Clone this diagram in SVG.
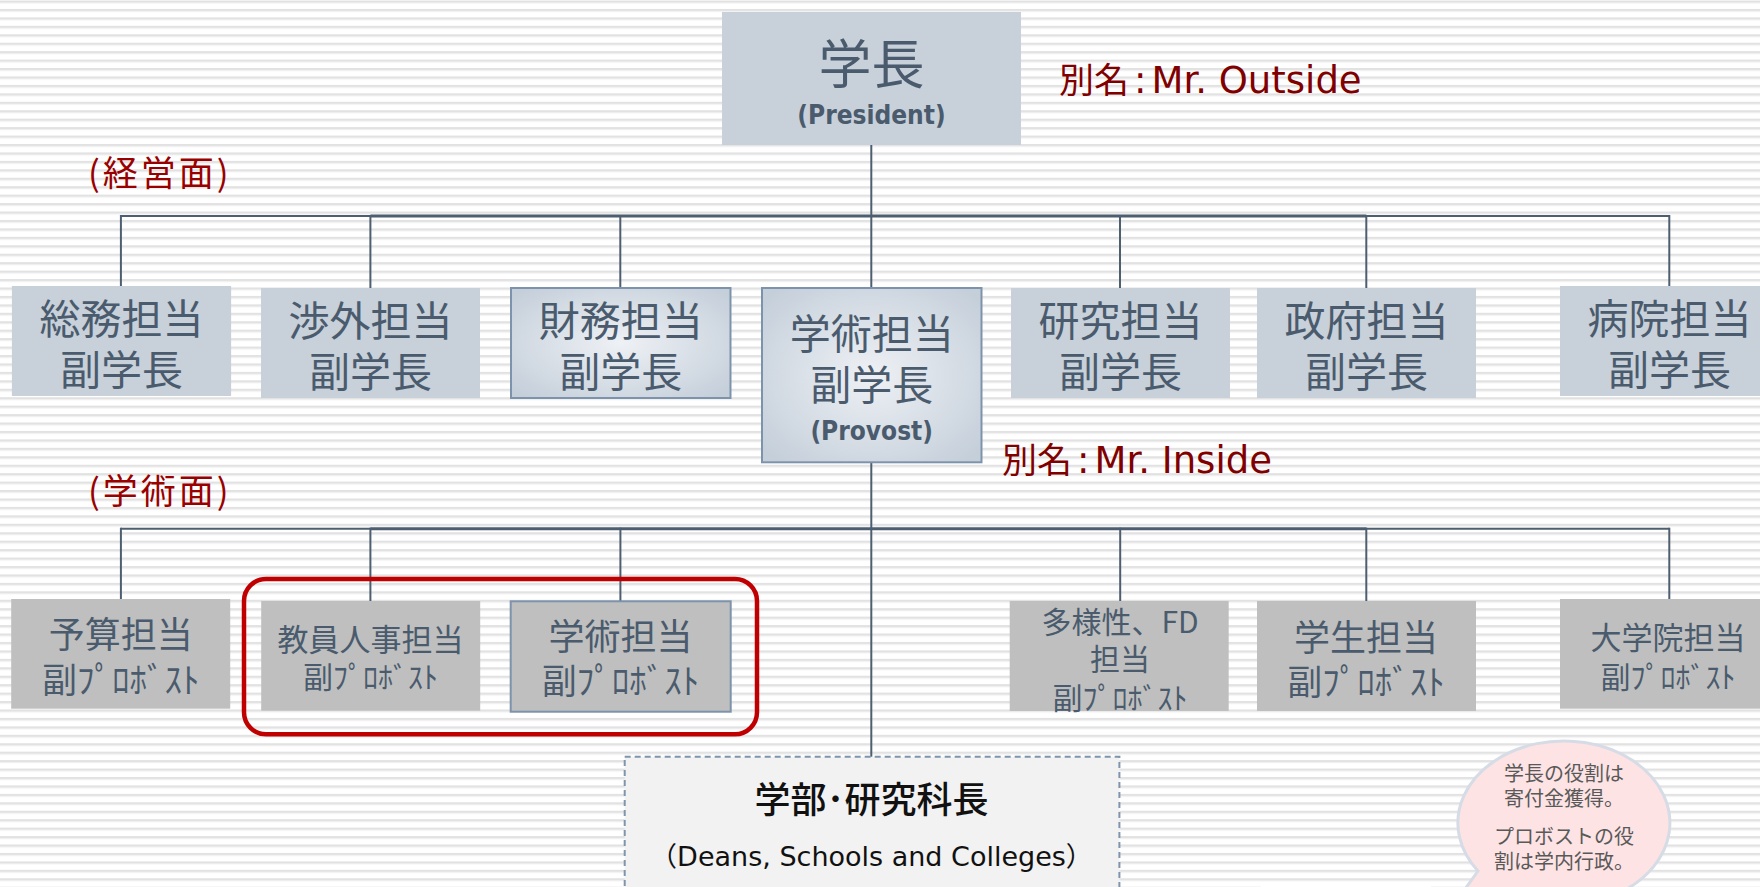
<svg xmlns="http://www.w3.org/2000/svg" width="1760" height="887" viewBox="0 0 1760 887">
<defs>
<pattern id="stripes" patternUnits="userSpaceOnUse" x="0" y="0.5" width="20" height="8.44">
<rect width="20" height="8.44" fill="#ffffff"/>
<rect y="0" width="20" height="2" fill="#e2e2e2"/>
<rect y="2" width="20" height="1" fill="#eeeeee"/>
</pattern>
<radialGradient id="glow" cx="50%" cy="50%" r="65%">
<stop offset="0" stop-color="#eef1f5"/>
<stop offset="1" stop-color="#c5cfda"/>
</radialGradient>
</defs>
<style>
.box{fill:#c8d0da}
.gbox{fill:url(#glow);stroke:#7c93ab;stroke-width:2}
.gray{fill:#bfbfbf}
.grays{fill:#bfbfbf;stroke:#7c93ab;stroke-width:2}
.t{font-family:'Noto Sans CJK JP',sans-serif;fill:#4a5b6d;text-anchor:middle}
.lat{font-family:'DejaVu Sans Condensed','DejaVu Sans',sans-serif;font-weight:bold;fill:#4a5b6d}
.ln{stroke:#4d5e70;stroke-width:2;fill:none}
.thick{stroke:#4d5e70;stroke-width:3;fill:none}
.red{font-family:'Noto Sans CJK JP',sans-serif;fill:#990000;letter-spacing:3px}
.alias{fill:#800000;font-family:'DejaVu Sans','Noto Sans CJK JP',sans-serif;font-size:37px}
.aliasjp{font-family:'Noto Sans CJK JP',sans-serif;font-size:35px}
.bub{font-family:'Noto Sans CJK JP',sans-serif;fill:#595959;font-size:20px;text-anchor:middle}
</style>
<rect x="0" y="0" width="1760" height="887" fill="url(#stripes)"/>

<g id="connectors">
<line class="ln" x1="871.3" y1="145" x2="871.3" y2="288"/>
<line class="ln" x1="120.9" y1="216" x2="370.4" y2="216"/>
<line class="thick" x1="370.4" y1="216" x2="1366.3" y2="216"/>
<line class="ln" x1="1366.3" y1="216" x2="1669.3" y2="216"/>
<line class="ln" x1="120.9" y1="215" x2="120.9" y2="286"/>
<line class="ln" x1="370.4" y1="215" x2="370.4" y2="288"/>
<line class="ln" x1="620.3" y1="215" x2="620.3" y2="288"/>
<line class="ln" x1="1120" y1="215" x2="1120" y2="288"/>
<line class="ln" x1="1366.3" y1="215" x2="1366.3" y2="288"/>
<line class="ln" x1="1669.3" y1="215" x2="1669.3" y2="286"/>
<line class="ln" x1="871.3" y1="462" x2="871.3" y2="757"/>
<line class="ln" x1="120.9" y1="528.7" x2="370.4" y2="528.7"/>
<line class="thick" x1="370.4" y1="528.7" x2="1366.3" y2="528.7"/>
<line class="ln" x1="1366.3" y1="528.7" x2="1669.3" y2="528.7"/>
<line class="ln" x1="120.9" y1="527.7" x2="120.9" y2="599"/>
<line class="ln" x1="370.4" y1="527.7" x2="370.4" y2="601"/>
<line class="ln" x1="620.4" y1="527.7" x2="620.4" y2="601"/>
<line class="ln" x1="1120.2" y1="527.7" x2="1120.2" y2="601"/>
<line class="ln" x1="1366.3" y1="527.7" x2="1366.3" y2="601"/>
<line class="ln" x1="1669.3" y1="527.7" x2="1669.3" y2="599"/>
</g>

<g id="president">
<rect class="box" x="722" y="12" width="299" height="133"/>
<text class="t" font-size="53"><tspan x="871.5" y="83.5">学長</tspan><tspan class="lat" x="871.5" y="124" font-size="26">(President)</tspan></text>
</g>
<text id="alias-outside" class="alias" x="1059" y="93"><tspan class="aliasjp">別名</tspan><tspan dx="5">:</tspan><tspan dx="5">Mr. Outside</tspan></text>
<text id="label-keiei" class="red" x="88" y="186" font-size="35">(経営面)</text>

<g id="vp-somu">
<rect class="box" x="11.9" y="286" width="219.2" height="110"/>
<text class="t" font-size="41"><tspan x="121.5" y="334">総務担当</tspan><tspan x="121.5" y="385">副学長</tspan></text>
</g>
<g id="vp-shogai">
<rect class="box" x="261" y="288" width="219" height="110"/>
<text class="t" font-size="41"><tspan x="370.4" y="336">渉外担当</tspan><tspan x="370.4" y="387">副学長</tspan></text>
</g>
<g id="vp-zaimu">
<rect class="gbox" x="511" y="288" width="219.5" height="110"/>
<text class="t" font-size="41"><tspan x="620.7" y="336">財務担当</tspan><tspan x="620.7" y="387">副学長</tspan></text>
</g>
<g id="provost">
<rect class="gbox" x="762" y="288" width="219.5" height="174.3"/>
<text class="t" font-size="41"><tspan x="871.7" y="349">学術担当</tspan><tspan x="871.7" y="400">副学長</tspan><tspan class="lat" x="871.7" y="440" font-size="26">(Provost)</tspan></text>
</g>
<g id="vp-kenkyu">
<rect class="box" x="1011" y="288" width="219" height="110"/>
<text class="t" font-size="41"><tspan x="1120.5" y="336">研究担当</tspan><tspan x="1120.5" y="387">副学長</tspan></text>
</g>
<g id="vp-seifu">
<rect class="box" x="1257" y="288" width="219" height="110"/>
<text class="t" font-size="41"><tspan x="1366.4" y="336">政府担当</tspan><tspan x="1366.4" y="387">副学長</tspan></text>
</g>
<g id="vp-byoin">
<rect class="box" x="1560" y="286" width="219" height="110"/>
<text class="t" font-size="41"><tspan x="1669.5" y="334">病院担当</tspan><tspan x="1669.5" y="385">副学長</tspan></text>
</g>
<text id="alias-inside" class="alias" x="1002" y="473"><tspan class="aliasjp">別名</tspan><tspan dx="5">:</tspan><tspan dx="5">Mr. Inside</tspan></text>
<text id="label-gakujutsu" class="red" x="88" y="504" font-size="35">(学術面)</text>

<g id="vpr-yosan">
<rect class="gray" x="11.2" y="599" width="219" height="109.7"/>
<text class="t" font-size="36"><tspan x="120.7" y="648">予算担当</tspan><tspan x="120.7" y="693" font-size="35">副ﾌﾟﾛﾎﾞｽﾄ</tspan></text>
</g>
<g id="vpr-kyoin">
<rect class="gray" x="261.2" y="601" width="219" height="109.7"/>
<text class="t" font-size="31"><tspan x="370.5" y="651">教員人事担当</tspan><tspan x="370.5" y="688" font-size="30">副ﾌﾟﾛﾎﾞｽﾄ</tspan></text>
</g>
<g id="vpr-gakujutsu">
<rect class="grays" x="510.7" y="601.3" width="220" height="110.4"/>
<text class="t" font-size="36"><tspan x="620.5" y="650">学術担当</tspan><tspan x="620.5" y="694" font-size="35">副ﾌﾟﾛﾎﾞｽﾄ</tspan></text>
</g>
<g id="vpr-tayosei">
<rect class="gray" x="1009.7" y="601" width="219" height="110"/>
<text class="t" font-size="30"><tspan x="1120" y="633">多様性、FD</tspan><tspan x="1120" y="670">担当</tspan><tspan x="1120" y="709">副ﾌﾟﾛﾎﾞｽﾄ</tspan></text>
</g>
<g id="vpr-gakusei">
<rect class="gray" x="1257" y="601" width="219" height="110"/>
<text class="t" font-size="36"><tspan x="1366" y="651">学生担当</tspan><tspan x="1366" y="695" font-size="35">副ﾌﾟﾛﾎﾞｽﾄ</tspan></text>
</g>
<g id="vpr-daigakuin">
<rect class="gray" x="1560" y="599" width="219" height="109.7"/>
<text class="t" font-size="31"><tspan x="1668" y="649">大学院担当</tspan><tspan x="1668" y="688" font-size="30">副ﾌﾟﾛﾎﾞｽﾄ</tspan></text>
</g>

<rect id="highlight" x="244" y="579" width="513" height="155.3" rx="22" fill="none" stroke="#c00000" stroke-width="4.5"/>

<g id="deans">
<rect x="624.7" y="756.7" width="494.7" height="150" fill="#f2f2f2" stroke="#7f95ad" stroke-width="2" stroke-dasharray="6 4"/>
<text font-family="'Noto Sans CJK JP',sans-serif" font-size="36" fill="#111" text-anchor="middle"><tspan x="871.5" y="813" font-weight="500">学部･研究科長</tspan><tspan x="871.5" y="866" font-size="27" font-family="'DejaVu Sans','Noto Sans CJK JP',sans-serif">（Deans, Schools and Colleges）</tspan></text>
</g>

<rect x="1261" y="882" width="170" height="10" fill="#ffffff"/>

<g id="bubble">
<path d="M1478,871 L1450,910 L1515,895.7 A106,82 0 1 0 1478,871 Z" fill="#fde3e4" stroke="#d6dce6" stroke-width="3"/>
<text class="bub"><tspan x="1564" y="781">学長の役割は</tspan><tspan x="1564" y="806">寄付金獲得。</tspan><tspan x="1564" y="844">プロボストの役</tspan><tspan x="1564" y="869">割は学内行政。</tspan></text>
</g>
</svg>
